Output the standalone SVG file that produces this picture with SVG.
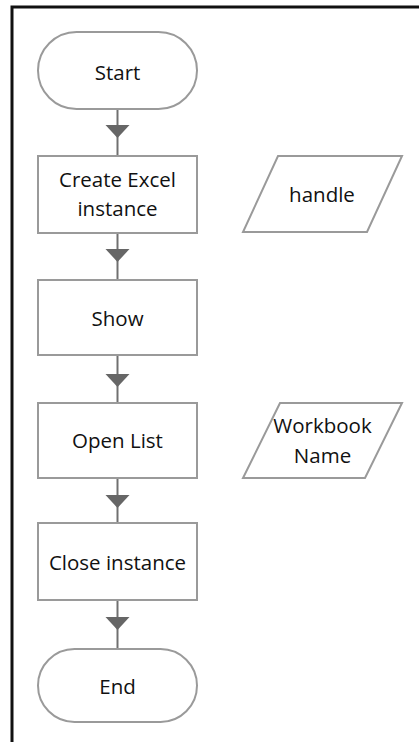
<svg xmlns="http://www.w3.org/2000/svg" xmlns:xlink="http://www.w3.org/1999/xlink" width="419" height="742" viewBox="0 0 419 742">
<style>
.shape{fill:#fff;stroke:#9a9a9a;stroke-width:2}
.lbl{font-family:"Open Sans","Noto Sans",sans-serif;font-size:20.5px;fill:#111;text-anchor:middle}
.conn{stroke:#707070;stroke-width:2;fill:none}
.ah{fill:#666}
</style>
<defs>
<path id="ah" d="M-12,0 L12,0 L0,13 Z"/>
</defs>
<rect x="12" y="7" width="420" height="750" fill="#fff" stroke="#111" stroke-width="3"/>
<g id="connectors">
<line class="conn" x1="117.5" y1="109" x2="117.5" y2="156"/>
<use xlink:href="#ah" class="ah" x="117.5" y="125"/>
<line class="conn" x1="117.5" y1="233" x2="117.5" y2="280"/>
<use xlink:href="#ah" class="ah" x="117.5" y="249"/>
<line class="conn" x1="117.5" y1="355" x2="117.5" y2="403"/>
<use xlink:href="#ah" class="ah" x="117.5" y="374"/>
<line class="conn" x1="117.5" y1="478" x2="117.5" y2="523"/>
<use xlink:href="#ah" class="ah" x="117.5" y="495"/>
<line class="conn" x1="117.5" y1="600" x2="117.5" y2="649"/>
<use xlink:href="#ah" class="ah" x="117.5" y="617"/>
</g>
<g id="start">
<rect class="shape" x="38" y="32" width="159" height="77" rx="38.5"/>
<text class="lbl" x="117.5" y="80">Start</text>
</g>
<g id="create">
<rect class="shape" x="38" y="156" width="159" height="77"/>
<text class="lbl" x="117.5" y="187">Create Excel</text>
<text class="lbl" x="117.5" y="216">instance</text>
</g>
<g id="handle">
<polygon class="shape" points="278,156 402,156 367,232 243,232"/>
<text class="lbl" x="322" y="202">handle</text>
</g>
<g id="show">
<rect class="shape" x="38" y="280" width="159" height="75"/>
<text class="lbl" x="117.5" y="326">Show</text>
</g>
<g id="openlist">
<rect class="shape" x="38" y="403" width="159" height="75"/>
<text class="lbl" x="117.5" y="448">Open List</text>
</g>
<g id="workbook">
<polygon class="shape" points="280,403 402,403 365,478 243,478"/>
<text class="lbl" x="322.5" y="433">Workbook</text>
<text class="lbl" x="322.5" y="463">Name</text>
</g>
<g id="close">
<rect class="shape" x="38" y="523" width="159" height="77"/>
<text class="lbl" x="117.5" y="570">Close instance</text>
</g>
<g id="end">
<rect class="shape" x="38" y="649" width="159" height="73" rx="36.5"/>
<text class="lbl" x="117.5" y="694">End</text>
</g>
</svg>
